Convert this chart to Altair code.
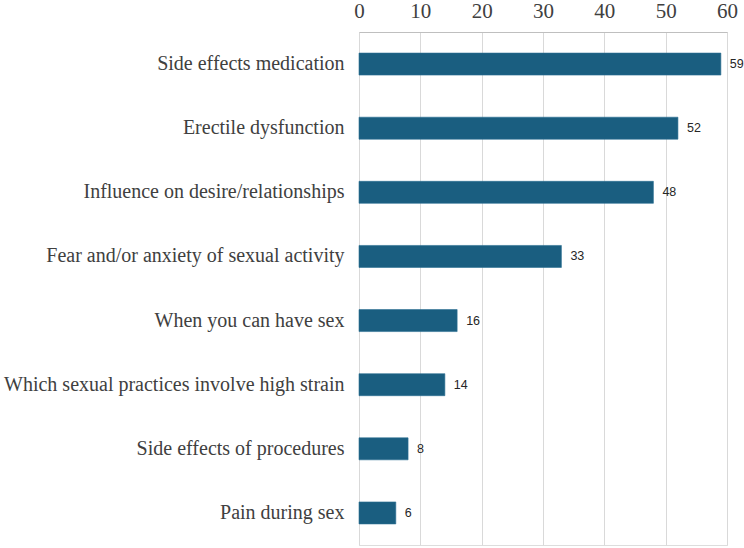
import altair as alt
import pandas as pd

# Topics of concern and the number of respondents naming each
topics = [
    "Side effects medication",
    "Erectile dysfunction",
    "Influence on desire/relationships",
    "Fear and/or anxiety of sexual activity ",
    "When you can have sex",
    "Which sexual practices involve high strain",
    "Side effects of procedures",
    "Pain during sex",
]
counts = [59, 52, 48, 33, 16, 14, 8, 6]
x_ticks = [0, 10, 20, 30, 40, 50, 60]

df = pd.DataFrame({"topic": topics, "count": counts})

BAR = "#1a5e80"
TEXT = "#404040"

y_enc = alt.Y(
    "topic:N",
    sort=topics,
    title=None,
    scale=alt.Scale(paddingInner=0.0, paddingOuter=0.0),
    axis=alt.Axis(
        labelFont="Liberation Serif",
        labelFontSize=20,
        labelColor=TEXT,
        labelPadding=15,
        ticks=False,
        domain=False,
        labelLimit=400,
    ),
)

x_enc = alt.X(
    "count:Q",
    title=None,
    scale=alt.Scale(domain=[0, 60], nice=False),
    axis=alt.Axis(
        orient="top",
        values=x_ticks,
        labelFont="Liberation Serif",
        labelFontSize=21,
        labelColor=TEXT,
        labelPadding=11,
        labelFlush=False,
        labelOverlap=False,
        ticks=False,
        domain=True,
        domainColor="#bfbfbf",
        grid=True,
        gridColor="#d9d9d9",
    ),
)

bars = alt.Chart(df).mark_bar(color=BAR, size=22, stroke="#2a6f92", strokeWidth=0.6).encode(
    x=x_enc, y=y_enc
)

labels = alt.Chart(df).mark_text(
    align="left",
    baseline="middle",
    dx=9,
    font="Liberation Sans",
    fontSize=12.5,
    color="#262626",
).encode(
    x=alt.X("count:Q"),
    y=alt.Y("topic:N", sort=topics),
    text=alt.Text("count:Q"),
)

chart = (
    alt.layer(bars, labels)
    .properties(
        width=368,
        height=513,
        autosize=alt.AutoSizeParams(type="none"),
        padding={"left": 359, "top": 32, "right": 17, "bottom": 3},
    )
    .configure_view(stroke=None)
    .configure(background="white")
)

chart.save("out.html", embed_options={"renderer": "svg", "actions": False})
